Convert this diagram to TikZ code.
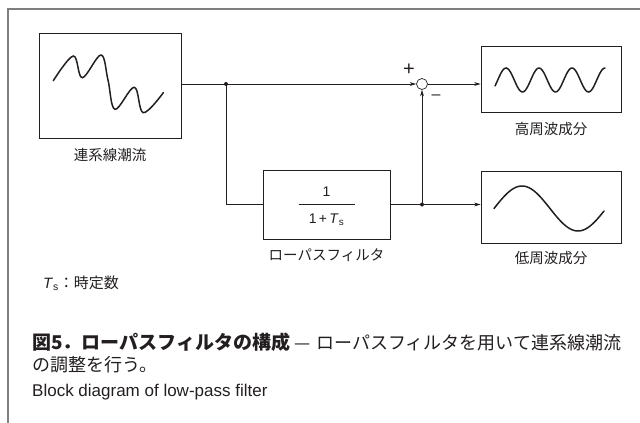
\documentclass[tikz,border=0pt]{standalone}
\usepackage{fontspec}
\setmainfont{Liberation Sans}
\newfontfamily\jp{Noto Sans CJK JP}
\usetikzlibrary{arrows.meta,calc,positioning}
\definecolor{ink}{HTML}{231F20}
\definecolor{rim}{HTML}{7F7F7F}
\tikzset{
	blk/.style={draw=ink, line width=0.7pt, inner sep=0pt},
	lbl/.style={font=\jp\fontsize{14.5}{16}\selectfont, text=ink, inner sep=0pt},
	wave/.style={draw=ink, line width=1.5pt, line cap=round},
	wire/.style={draw=ink, line width=0.7pt}
}
\begin{document}
\begin{tikzpicture}[x=1pt, y=-1pt, >={Stealth[length=6.5pt,width=3.8pt]}]
				\useasboundingbox (0,0) rectangle (640,423);
				\draw[rim, line width=1.2pt] (8,423) -- (8,9) -- (640,9);
				\node[blk, minimum width=142pt, minimum height=105pt] (src) at (110,85.5) {};
				\node[blk, minimum width=127pt, minimum height=69pt] (lpf) at (326.5,204.5) {};
				\node[blk, minimum width=140pt, minimum height=66pt] (hi) at (551,79) {};
				\node[blk, minimum width=140pt, minimum height=72pt] (lo) at (551,207) {};
				\node[draw=ink, line width=0.7pt, circle, minimum size=11pt, inner sep=0pt] (sum) at (422,84) {};
				\node[text=ink, font=\fontsize{14}{16}\selectfont, inner sep=0pt] (num) at ($(lpf.center)+(0,-13)$) {1};
				\node[text=ink, font=\fontsize{14}{16}\selectfont, inner sep=0pt] (den) at ($(lpf.center)+(0,15)$) {1\,+\,\textit{T}\textsubscript{s}};
				\draw[wire] ($(lpf.center)+(-28,0)$) -- ($(lpf.center)+(28,0)$);
				\coordinate (j1) at (226,84);
				\coordinate (j2) at (sum |- lpf.east);
				\draw[wire] (src.east |- j1) -- (j1);
				\draw[wire, ->] (j1) -- (sum.west);
				\draw[wire] (j1) |- (lpf.west);
				\draw[wire] (lpf.east) -- (j2);
				\draw[wire, ->] (j2) -- (lo.west |- j2);
				\draw[wire, ->] (j2) -- (sum.south);
				\draw[wire, ->] (sum.east) -- (hi.west |- sum);
				\fill[ink] (j1) circle (2pt);
				\fill[ink] (j2) circle (2pt);
				\node[font=\fontsize{20}{22}\selectfont, text=ink, inner sep=0pt] (plus) at (409,70) {+};
				\node[font=\fontsize{16}{18}\selectfont, text=ink, inner sep=0pt] (minus) at (436,97) {--};
				\draw[wave] plot[smooth, tension=0.6] coordinates {(53.3,80.7) (73.3,56) (82.3,77.7) (101,55) (108,80) (115,109.3) (134.3,87.3) (143.3,112.7) (163.3,92.7)};
				\draw[wave] plot[domain=495:605, samples=80] (\x, {80-12*cos(360/33*(\x-506))});
				\draw[wave] plot[domain=494:604, samples=60] (\x, {208.5-22.5*cos(360/112*(\x-522))});
				\node[lbl, below=10pt of src] (srclbl) {連系線潮流};
				\node[lbl, below=9pt of lpf] (lpflbl) {ローパスフィルタ};
				\node[lbl, below=10pt of hi] (hilbl) {高周波成分};
				\node[lbl, below=8pt of lo] (lolbl) {低周波成分};
				\node[anchor=west, text=ink, font=\fontsize{15}{17}\selectfont, inner sep=0pt] (tsnote) at (43,283)
					{\textit{T}\textsubscript{s}{\jp ：時定数}};
				\node[anchor=west, text=ink, inner sep=0pt] (cap1) at (32,342)
					{{\jp\bfseries\fontsize{19}{22}\selectfont 図5．ローパスフィルタの構成}\hspace{4pt}{\jp\fontsize{18}{22}\selectfont —\hspace{6pt}ローパスフィルタを用いて連系線潮流}};
				\node[anchor=west, text=ink, inner sep=0pt, font=\jp\fontsize{18}{22}\selectfont] (cap2) at (32,365) {の調整を行う。};
				\node[anchor=west, text=ink, inner sep=0pt, font=\fontsize{17}{20}\selectfont] (cap3) at (32,392) {Block diagram of low-pass filter};
		\end{tikzpicture}
\end{document}
